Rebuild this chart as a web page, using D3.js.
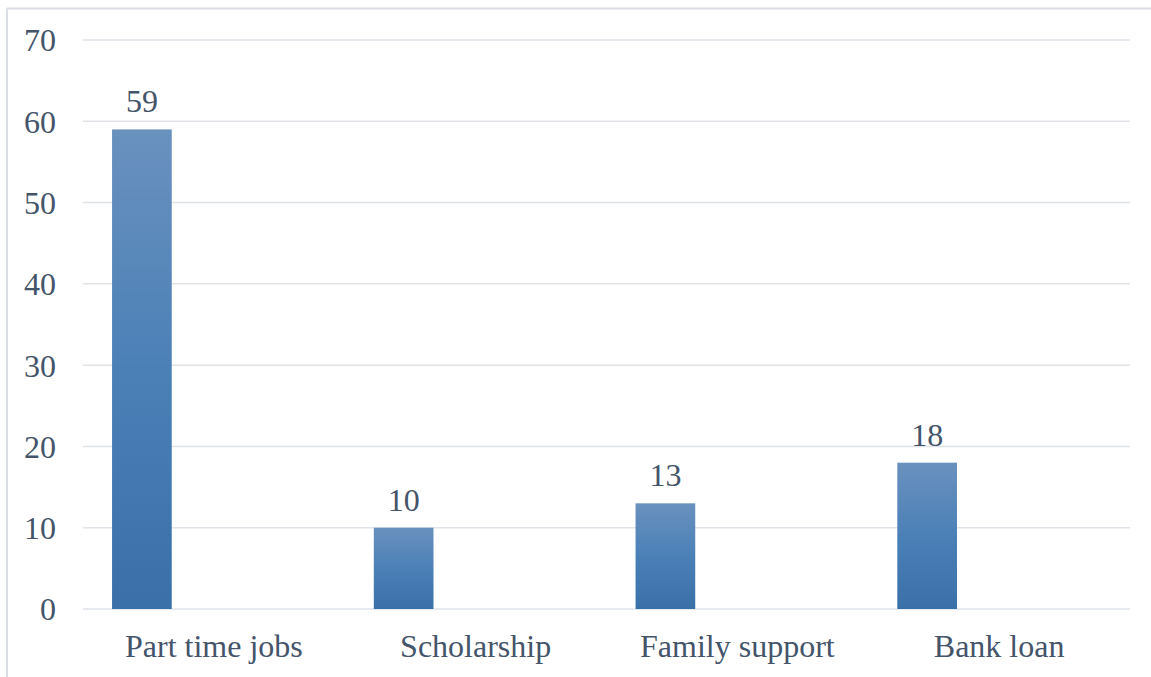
<!DOCTYPE html>
<html>
<head>
<meta charset="utf-8">
<script src="https://cdn.jsdelivr.net/npm/d3@7"></script>
<style>
  html, body { margin: 0; padding: 0; background: #fff; }
  svg { display: block; }
</style>
</head>
<body>
<svg id="chart" width="1151" height="677"></svg>
<script>
// Sources of funding: number of respondents per category
const categories = ["Part time jobs", "Scholarship", "Family support", "Bank loan"];
const values = [59, 10, 13, 18];
const yTicks = [0, 10, 20, 30, 40, 50, 60, 70];

const W = 1151, H = 677;
const margin = { left: 83, right: 21 };
const svg = d3.select("#chart");

const textColor = "#44546a";
const gridColor = "#dfe3e8";
const font = "'Liberation Serif', 'Times New Roman', serif";
const fontSize = 32;

// Outer frame (top and left edges visible)
svg.append("line").attr("x1", 7).attr("x2", W).attr("y1", 8.5).attr("y2", 8.5)
  .attr("stroke", "#dadee4").attr("stroke-width", 2);
svg.append("line").attr("x1", 7).attr("x2", 7).attr("y1", 8.5).attr("y2", H)
  .attr("stroke", "#dadee4").attr("stroke-width", 2);

const x = d3.scaleBand().domain(categories).range([margin.left, W - margin.right]);
const y = d3.scaleLinear().domain([0, 70]).range([609, 40]);

// Gradient fill for bars
const defs = svg.append("defs");
const grad = defs.append("linearGradient").attr("id", "barGrad")
  .attr("x1", 0).attr("y1", 0).attr("x2", 0).attr("y2", 1);
grad.append("stop").attr("offset", "0%").attr("stop-color", "#6991be");
grad.append("stop").attr("offset", "50%").attr("stop-color", "#4b80b7");
grad.append("stop").attr("offset", "100%").attr("stop-color", "#3a70a8");

// Horizontal gridlines
svg.append("g").selectAll("line").data(yTicks).join("line")
  .attr("x1", margin.left).attr("x2", W - margin.right)
  .attr("y1", d => y(d)).attr("y2", d => y(d))
  .attr("stroke", gridColor).attr("stroke-width", 1.5);

// Y axis labels
const yAxis = d3.axisLeft(y).tickValues(yTicks).tickSize(0).tickPadding(0);
const yg = svg.append("g").attr("transform", "translate(56,0)").call(yAxis);
yg.select(".domain").remove();
yg.selectAll("text").attr("fill", textColor).attr("font-family", font)
  .attr("font-size", fontSize).attr("dy", "0.34em");

// X axis labels
const xAxis = d3.axisBottom(x).tickSize(0).tickPadding(0);
const xg = svg.append("g").attr("transform", "translate(0,634)").call(xAxis);
xg.select(".domain").remove();
xg.selectAll("text").attr("fill", textColor).attr("font-family", font)
  .attr("font-size", fontSize).attr("dy", "0.71em");

// Bars sit in the first slot of each category band
const barOffset = x.bandwidth() * 0.111;
const barWidth = x.bandwidth() * 0.228;

const data = categories.map((c, i) => ({ c, v: values[i] }));

svg.append("g").selectAll("rect").data(data).join("rect")
  .attr("x", d => x(d.c) + barOffset)
  .attr("width", barWidth)
  .attr("y", d => y(d.v))
  .attr("height", d => y(0) - y(d.v))
  .attr("fill", "url(#barGrad)");

// Value labels
svg.append("g").selectAll("text").data(data).join("text")
  .attr("x", d => x(d.c) + barOffset + barWidth / 2)
  .attr("y", d => y(d.v) - 17)
  .attr("text-anchor", "middle")
  .attr("fill", textColor).attr("font-family", font).attr("font-size", fontSize)
  .text(d => d.v);
</script>
</body>
</html>
